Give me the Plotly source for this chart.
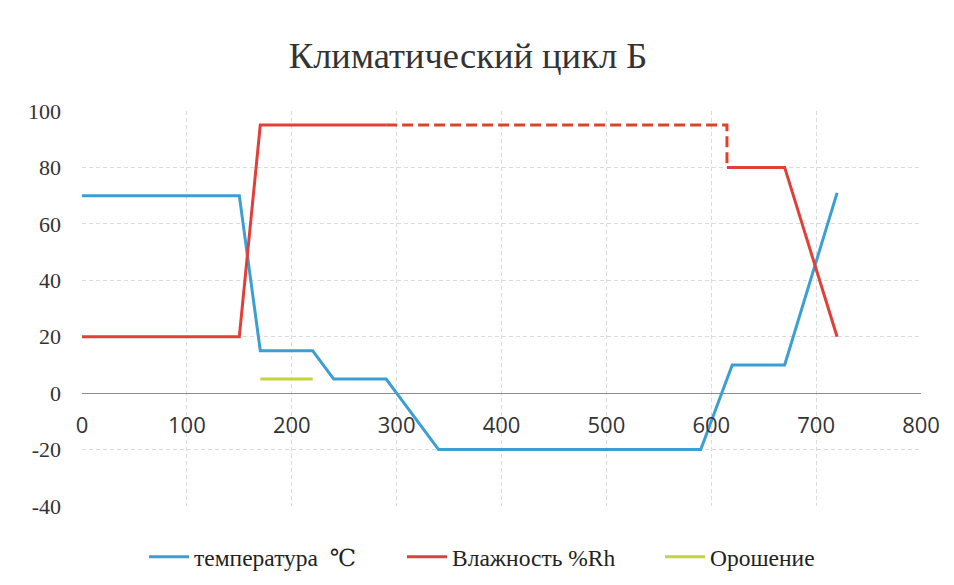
import plotly.graph_objects as go

# Data (time in minutes)
temp_time = [0, 150, 170, 220, 240, 290, 340, 590, 620, 670, 720]
temp_val = [70, 70, 15, 15, 5, 5, -20, -20, 10, 10, 71]

hum_time_a = [0, 150, 170, 290]
hum_val_a = [20, 20, 95, 95]
hum_time_dash = [290, 615, 615]
hum_val_dash = [95, 95, 80]
hum_time_b = [615, 670, 720]
hum_val_b = [80, 80, 20]

spray_time = [170, 220]
spray_val = [5, 5]

x_ticks = [0, 100, 200, 300, 400, 500, 600, 700, 800]
y_ticks = [-40, -20, 0, 20, 40, 60, 80, 100]

BLUE = "#3c9fd2"
RED = "#e0403a"
RED_D = "#d9442f"
GREEN = "#c6d43c"
SERIF = "Liberation Serif, DejaVu Serif, serif"
SANS = "Open Sans"

W, H = 946, 577  # page has an 8px body margin

fig = go.Figure()
fig.add_trace(go.Scatter(x=temp_time, y=temp_val, mode="lines", name="температура  ℃",
                         line=dict(color=BLUE, width=3)))
fig.add_trace(go.Scatter(x=hum_time_a, y=hum_val_a, mode="lines", name="Влажность %Rh",
                         legendgroup="hum", line=dict(color=RED, width=3)))
fig.add_trace(go.Scatter(x=hum_time_dash, y=hum_val_dash, mode="lines", name="Влажность %Rh",
                         legendgroup="hum", showlegend=False,
                         line=dict(color=RED_D, width=3, dash="11px,5px")))
fig.add_trace(go.Scatter(x=hum_time_b, y=hum_val_b, mode="lines", name="Влажность %Rh",
                         legendgroup="hum", showlegend=False, line=dict(color=RED, width=3)))
fig.add_trace(go.Scatter(x=spray_time, y=spray_val, mode="lines", name="Орошение",
                         line=dict(color=GREEN, width=3)))

fig.update_layout(
    width=W, height=H,
    margin=dict(l=74, r=33, t=103, b=79, autoexpand=False),
    paper_bgcolor="white", plot_bgcolor="white",
    title=dict(text="Климатический цикл Б", font=dict(family=SERIF, size=36.5, color="#333333"),
               xref="container", x=460 / W, xanchor="center",
               yref="container", y=1 - 47 / H, yanchor="middle"),
    showlegend=True,
    legend=dict(orientation="h", xref="container", x=136 / W, xanchor="left",
                yref="container", y=1 - 549 / H, yanchor="middle",
                font=dict(family=SERIF, size=23.5, color="#222222"),
                entrywidth=203, entrywidthmode="pixels",
                itemwidth=40, tracegroupgap=0, bgcolor="rgba(0,0,0,0)"),
    xaxis=dict(range=[0, 800], tickvals=x_ticks, ticktext=[str(v) for v in x_ticks],
               anchor="free", position=40 / 140,
               showgrid=True, gridcolor="#dadada", griddash="4px,3px", gridwidth=1,
               zeroline=False, showline=False, ticks="",
               ticklabelstandoff=17,
               tickfont=dict(family=SANS, size=22, color="#333333")),
    yaxis=dict(range=[-40, 100], tickvals=y_ticks, ticktext=[str(v) for v in y_ticks],
               showgrid=True, gridcolor="#dadada", griddash="4px,3px", gridwidth=1,
               zeroline=True, zerolinecolor="#8c8c8c", zerolinewidth=1,
               showline=False, ticks="", ticklabelstandoff=20,
               tickfont=dict(family=SERIF, size=22, color="#333333")),
)

fig.write_html("out.html")
